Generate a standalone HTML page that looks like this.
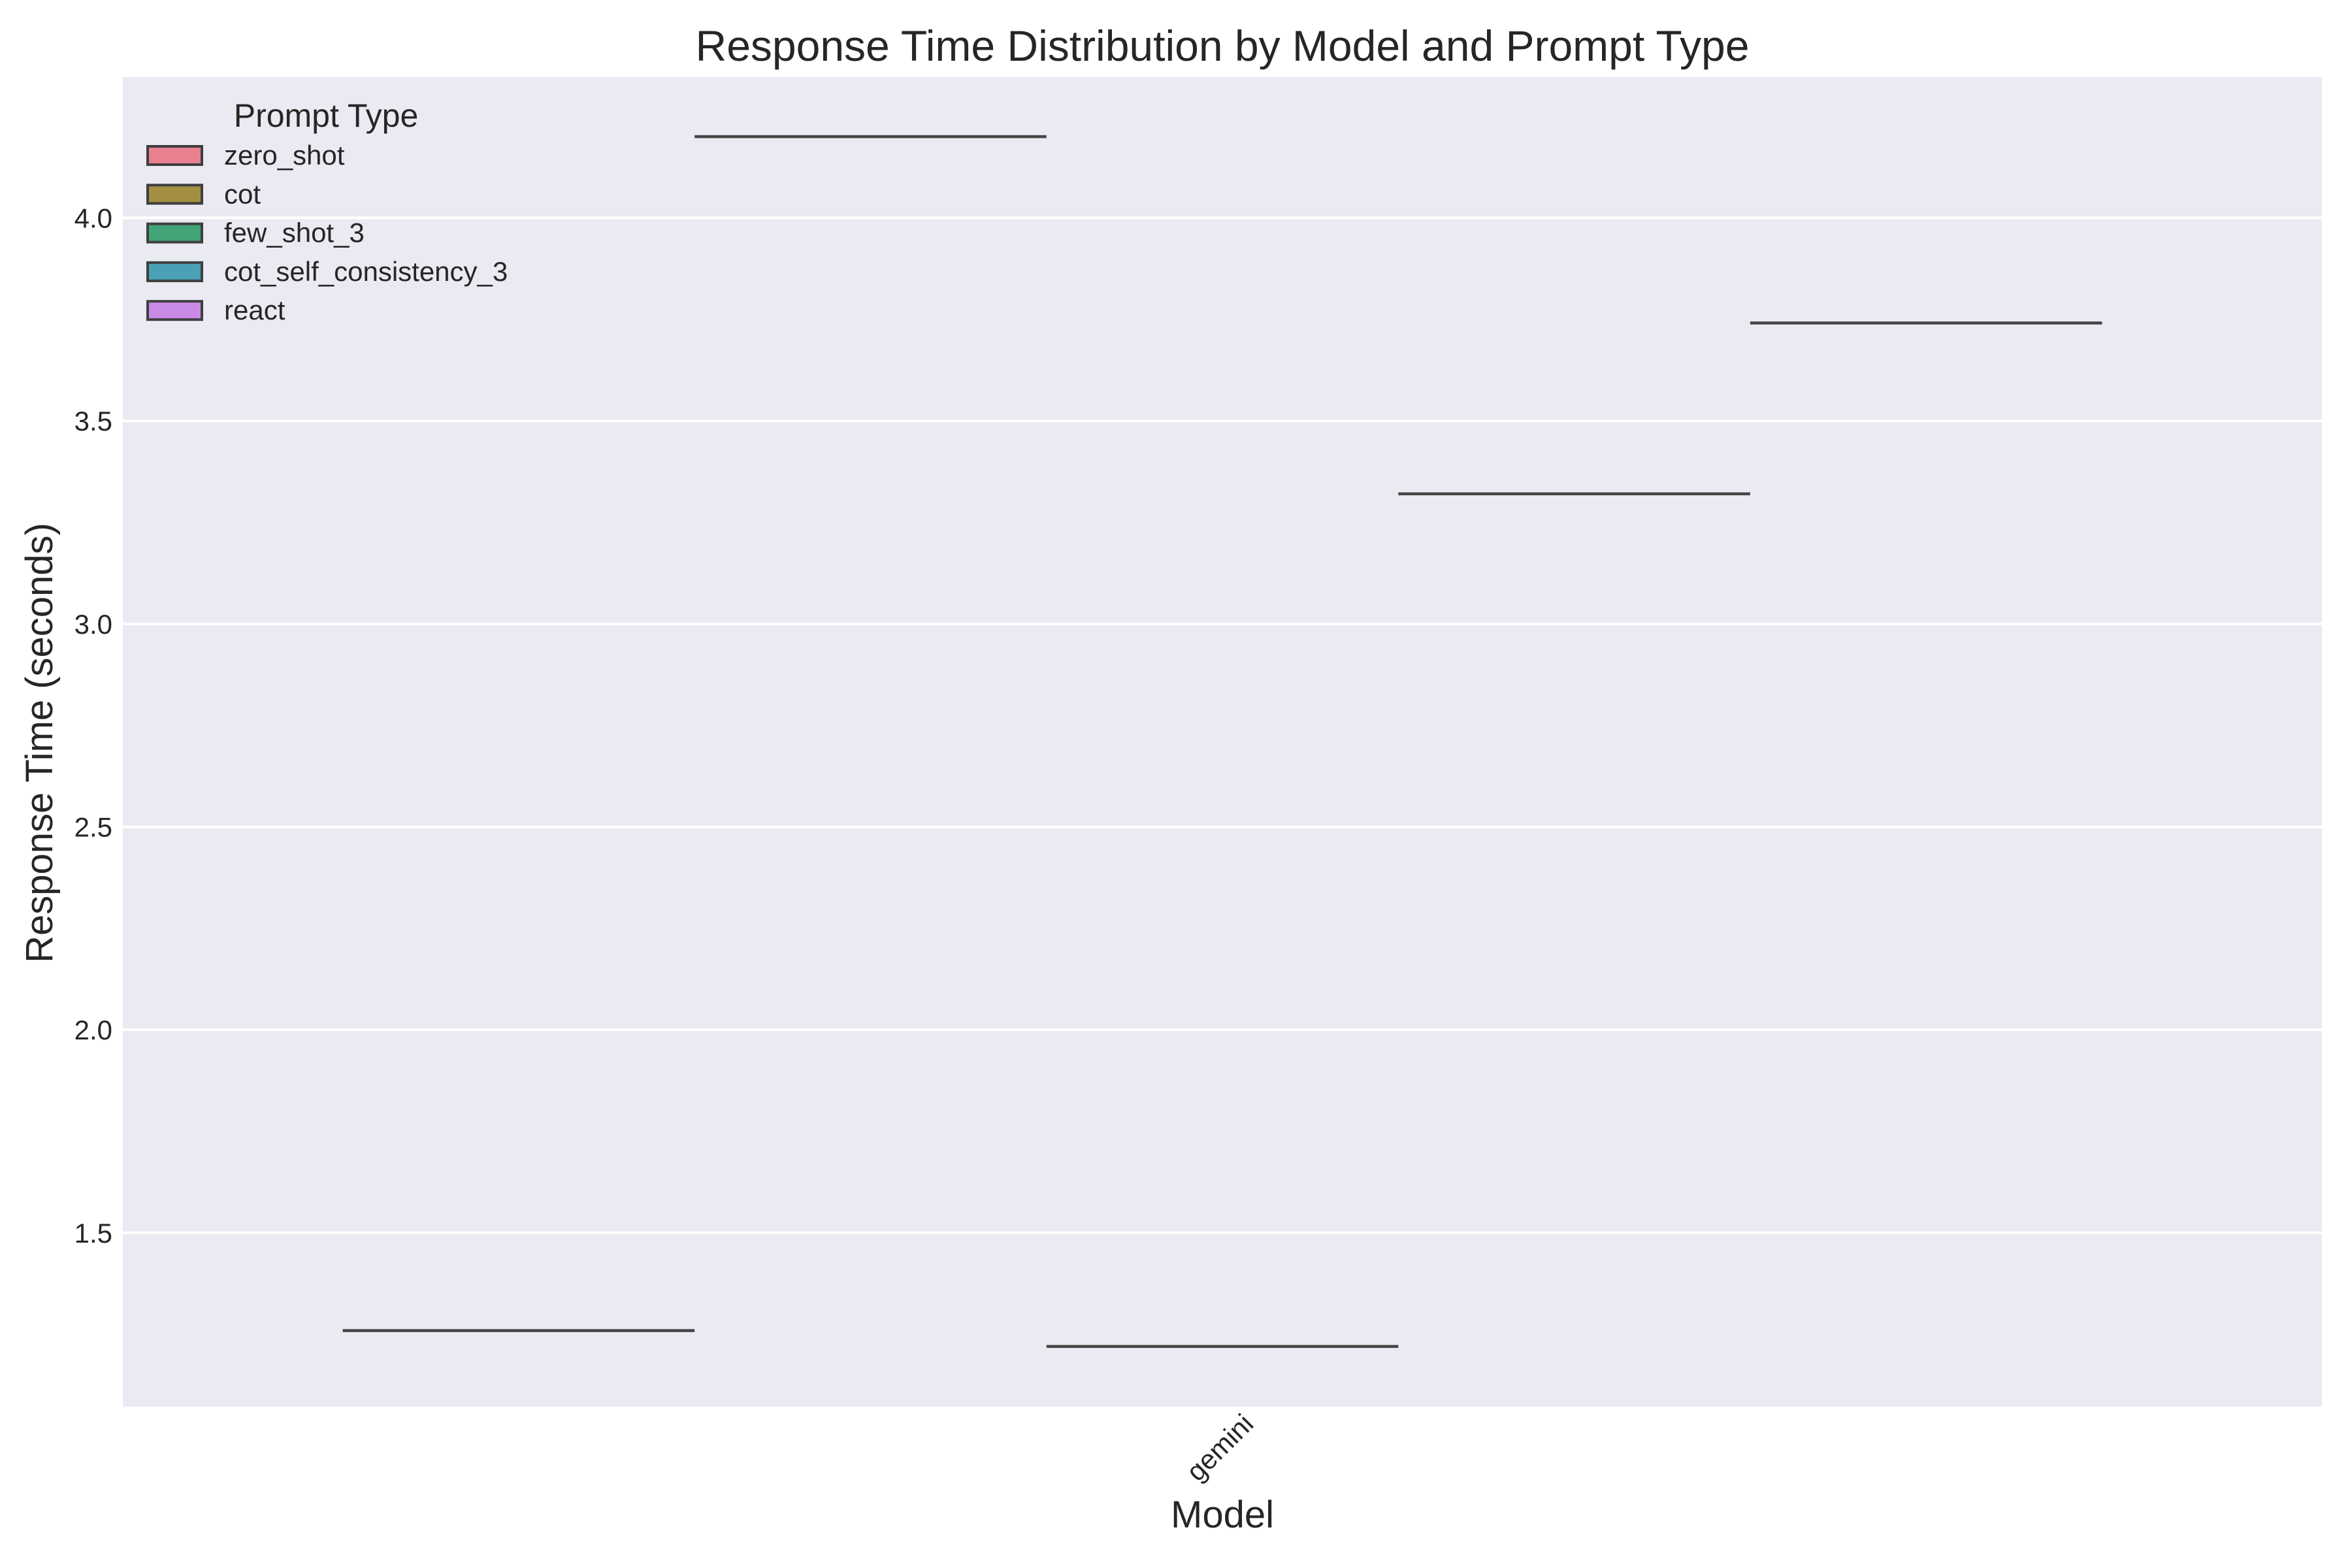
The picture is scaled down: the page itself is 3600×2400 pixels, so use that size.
<!DOCTYPE html>
<html><head><meta charset="utf-8"><style>
html,body{margin:0;padding:0;background:#fff}
svg{display:block;font-family:"Liberation Sans",Arial,sans-serif}
</style></head><body>
<svg id="chart" width="3600" height="2400" viewBox="0 0 3600 2400">
<rect x="0" y="0" width="3600" height="2400" fill="#fff"/>
<rect x="188" y="118" width="3366" height="2035" fill="#eaeaf2"/>
<g id="grid"></g>
<g id="marks"></g>
<g id="yticks"></g>
<text x="1871" y="93" text-anchor="middle" font-size="66" fill="#262626">Response Time Distribution by Model and Prompt Type</text>
<text transform="translate(80,1137) rotate(-90)" text-anchor="middle" font-size="58" fill="#262626">Response Time (seconds)</text>
<text x="1871" y="2338" text-anchor="middle" font-size="58" fill="#262626">Model</text>
<g id="xticks"></g>
<g id="legend"></g>
</svg>
<script>
const categories = ["gemini"];
const hues = ["zero_shot","cot","few_shot_3","cot_self_consistency_3","react"];
const hueColors = ["#e8808f","#a38f42","#43a477","#4aa0b4","#c98ae6"];
const medianValues = [1.259, 4.20, 1.220, 3.320, 3.741];
const yTicks = [1.5, 2.0, 2.5, 3.0, 3.5, 4.0];
const yTickLabels = ["1.5","2.0","2.5","3.0","3.5","4.0"];

const NS = "http://www.w3.org/2000/svg";
const L=188, R=3554, T=118, B=2153;
const yMin=1.0717, yMax=4.3466;
function y(v){ return B - (v - yMin)/(yMax - yMin)*(B - T); }
function x(c){ return L + (c + 0.5)/categories.length*(R - L); }
function mk(tag, attrs, parent){ const e=document.createElementNS(NS,tag); for(const k in attrs) e.setAttribute(k, attrs[k]); parent.appendChild(e); return e; }

const grid=document.getElementById('grid');
const yt=document.getElementById('yticks');
yTicks.forEach((v,i)=>{
  const g=mk('line',{x1:L,x2:R,y1:y(v),y2:y(v),stroke:'#fff','stroke-width':4},grid);
  
  
  const t=mk('text',{x:172,y:y(v)+15,'text-anchor':'end','font-size':42,fill:'#262626'},yt);
  t.textContent=yTickLabels[i];
  
  
});

const marks=document.getElementById('marks');
const slot=(R-L)/categories.length;
categories.forEach((c,ci)=>{
  const cx=x(ci);
  hues.forEach((h,hi)=>{
    const w=0.8/hues.length*slot;
    const hc=cx-0.4*slot+(hi+0.5)*w;
    const ln=mk('line',{x1:hc-w/2,x2:hc+w/2,y1:y(medianValues[hi]),y2:y(medianValues[hi]),stroke:'#444','stroke-width':4.5},marks);
    
    
  });
  const xt=document.getElementById('xticks');
  const t=mk('text',{transform:'translate('+(cx+50)+',2182) rotate(-45)','text-anchor':'end','font-size':42,fill:'#262626'},xt);
  t.textContent=c;
  
  
});

const lg=document.getElementById('legend');
const tt=mk('text',{x:499,y:194,'text-anchor':'middle','font-size':50,fill:'#262626'},lg);
tt.textContent='Prompt Type';


hues.forEach((h,i)=>{
  const cy=238+i*59.3;
  const r=mk('rect',{x:226,y:cy-14,width:83,height:28,fill:hueColors[i],stroke:'#3f3f3f','stroke-width':4},lg);
  
  
  const t=mk('text',{x:343,y:cy+14,'font-size':42,fill:'#262626'},lg);
  t.textContent=h;
  
  
});
</script>
</body></html>
